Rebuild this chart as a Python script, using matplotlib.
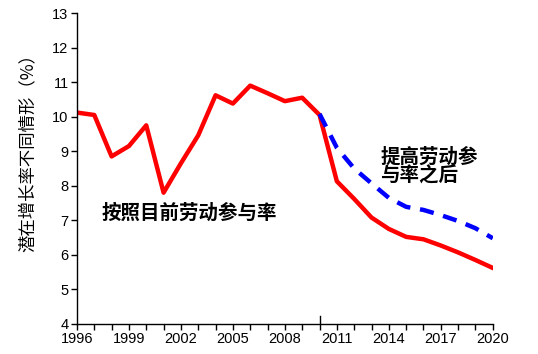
import numpy as np
import matplotlib.pyplot as plt

# data
years = list(range(1996, 2021))
current_rate = [10.12, 10.05, 8.85, 9.15, 9.75, 7.8, 8.65, 9.46, 10.62, 10.38,
                10.9, 10.68, 10.45, 10.55, 10.05, 8.13, 7.62, 7.08, 6.75, 6.52,
                6.45, 6.27, 6.07, 5.85, 5.62]
raised_years = list(range(2010, 2021))
raised_rate = [10.08, 9.1, 8.5, 8.07, 7.65, 7.39, 7.3, 7.15, 6.98, 6.77, 6.48]
tick_years = [1996, 1999, 2002, 2005, 2008, 2011, 2014, 2017, 2020]
y_ticks = list(range(4, 14))

plt.rcParams['font.family'] = ['Liberation Sans', 'Noto Sans CJK SC', 'DejaVu Sans']
cjk = ['Noto Sans CJK SC', 'DejaVu Sans']

fig = plt.figure(figsize=(5.38, 3.54), dpi=100)
ax = fig.add_axes([0.143, 0.085, 0.773, 0.878])

ax.plot(years, current_rate, color='#ff0000', lw=3.2, solid_joinstyle='round')
ax.plot(raised_years, raised_rate, color='#0000ff', lw=3.2, dashes=(3.2, 2.2))

ax.set_xlim(1996, 2020)
ax.set_ylim(4, 13)
ax.set_xticks(years, minor=True)
ax.set_xticks(tick_years)
ax.set_xticklabels([str(y) for y in tick_years])
ax.set_yticks(y_ticks)
ax.tick_params(axis='both', which='both', direction='out', length=4, width=1,
               labelsize=10.5, pad=2)
ax.axvline(2010, ymin=0, ymax=0.025, color='black', lw=1)

for side in ['top', 'right']:
    ax.spines[side].set_visible(False)
for side in ['left', 'bottom']:
    ax.spines[side].set_linewidth(1)

ax.text(1997.45, 7.22, '按照目前劳动参与率', family=cjk, fontsize=14,
        fontweight='bold', ha='left', va='center')
ax.text(2013.5, 8.55, '提高劳动参\n与率之后', family=cjk, fontsize=14,
        fontweight='bold', ha='left', va='center', linespacing=1.0)

fig.text(0.052, 0.58, '潜在增长率不同情形（%）', family=cjk, fontsize=12.5,
         rotation=90, ha='center', va='center')

fig.savefig('out.png', dpi=100)
